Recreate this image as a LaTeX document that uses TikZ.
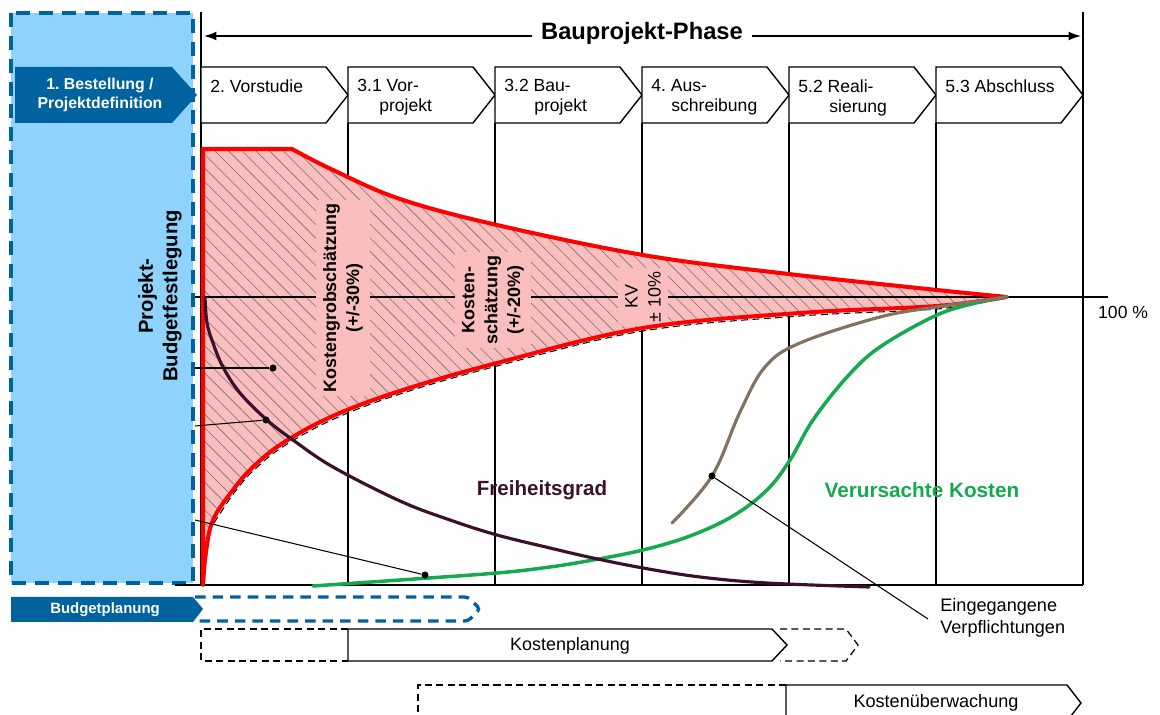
\documentclass[tikz,border=0pt]{standalone}
\usepackage{fontspec}
\setmainfont{Liberation Sans}
\usepackage{xcolor}
\usepackage{tikz}
\usetikzlibrary{arrows.meta,patterns.meta}

\definecolor{hellblau}{RGB}{143,211,252}
\definecolor{dunkelblau}{RGB}{0,99,160}
\definecolor{rosa}{RGB}{250,190,190}
\definecolor{lila}{RGB}{58,16,42}
\definecolor{gruen}{RGB}{22,170,80}
\definecolor{braun}{RGB}{130,115,95}

% Kostenband (obere und untere Grenze)
\newcommand{\kostenband}{(203,585) -- (203,149) -- (292,149)
    -- plot[smooth, tension=0.6] coordinates {(292,149) (333,170) (400,199) (497,225) (643,255) (780,273) (937,290) (1007,297)}
    -- plot[smooth, tension=0.6] coordinates {(1007,297) (937,306) (800,313) (643,328) (497,363) (400,391) (333,416) (283,443) (253,467) (233,490) (213,520) (206,552) (203,585)}
    -- cycle}

\begin{document}
\frenchspacing
\begin{tikzpicture}[
        x=0.02cm, y=-0.02cm,
        linie/.style={line width=0.8pt},
        phase/.style={draw, line width=0.8pt, fill=white},
        phasetext/.style={anchor=north west, align=left, inner sep=0pt, font=\fontsize{10}{11.4}\selectfont},
        bandtext/.style={rotate=90, fill=rosa, align=center, inner xsep=2pt, inner ysep=4pt, font=\bfseries\fontsize{10.2}{13}\selectfont},
        kurve/.style={line width=1.8pt, line cap=round},
        zeiger/.style={line width=0.6pt},
        punkt/.style={circle, fill=black, inner sep=0pt, minimum size=4pt},
        blaustrich/.style={dunkelblau, line width=1.9pt, dash pattern=on 6pt off 4pt},
        strich/.style={line width=0.7pt, dash pattern=on 4pt off 2.5pt}
    ]
    \useasboundingbox (0,0) rectangle (1160,715);

    % Bestellung / Projektdefinition
    \fill[hellblau] (11,13) rectangle (193,583);
    \draw[blaustrich, line width=2.3pt, dash pattern=on 8pt off 5pt] (11,13) rectangle (193,583);

    % Achsen und Phasengrenzen
    \draw[linie] (201,12) -- (201,585);
    \draw[linie] (1083,12) -- (1083,585);
    \draw[linie] (175,585) -- (1083,585);
    \foreach \xv in {348,495,642,789,936}
        \draw[linie] (\xv,123) -- (\xv,585);

    \coordinate (pfeilL) at (204,36);
    \coordinate (pfeilR) at (1081,36);
    \draw[{Latex[length=7pt,width=5pt]}-{Latex[length=7pt,width=5pt]}, line width=0.8pt] (pfeilL) -- (pfeilR);
    \node[fill=white, inner xsep=5pt, font=\bfseries\fontsize{13.5}{16}\selectfont] (bauphase) at (642,33) {Bauprojekt-Phase};

    % Phasen
    \foreach \xa/\nm/\txt in {201/vorstudie/{2. Vorstudie},
            348/vorprojekt/{3.1 Vor-\\\hspace*{0.44cm}projekt},
            495/bauprojekt/{3.2 Bau-\\\hspace*{0.6cm}projekt},
            642/ausschreibung/{4. Aus-\\\hspace*{0.4cm}schreibung},
            789/realisierung/{5.2 Reali-\\\hspace*{0.62cm}sierung},
            936/abschluss/{5.3 Abschluss}} {
        \draw[phase] (\xa,67) -- ++(125,0) -- ++(22,28) -- ++(-22,28) -- ++(-125,0) -- cycle;
        \node[phasetext] (\nm) at (\xa+9,79) {\txt};
    }

    \fill[dunkelblau] (15,67) -- (172,67) -- (197,95) -- (172,123) -- (15,123) -- cycle;
    \node[white, align=center, font=\bfseries\fontsize{9}{10.8}\selectfont] (bestellung) at (100,95) {1. Bestellung /\\Projektdefinition};

    % Kostenband
    \fill[rosa, postaction={pattern={Lines[angle=-45,distance=5.5pt,line width=0.35pt]}, pattern color=black!55}] \kostenband;
    \draw[strich, line width=0.6pt] plot[smooth, tension=0.6] coordinates {(214,523) (234,493) (254,470) (284,446) (334,419) (400,394) (497,366) (643,331) (800,316) (937,309) (995,300)};
    \coordinate (hundertL) at (195,297);
    \coordinate (hundertR) at (1108,297);
    \draw[zeiger] (hundertL) -- (hundertR);

    \node[bandtext] (grob) at (343,298) {Kostengrobschätzung\\(+/-30\%)};
    \node[bandtext] (schaetzung) at (493,300) {Kosten-\\schätzung\\(+/-20\%)};
    \node[bandtext, font=\fontsize{10.2}{13}\selectfont] (kv) at (643,297) {KV\\± 10\%};

    \draw[red, line width=2.3pt, line join=round] \kostenband;

    % Kurven
    \draw[kurve, gruen, line width=2pt] plot[smooth, tension=0.6] coordinates {(313,586) (400,580) (497,573) (550,567) (593,560) (643,550) (690,536) (733,516) (767,490) (790,460) (813,420) (847,377) (880,347) (937,315) (980,302) (1007,297)};
    \draw[kurve, braun] plot[smooth, tension=0.6] coordinates {(672,523) (712,476) (740,412) (765,367) (800,343) (880,317) (937,307) (1007,297)};
    \draw[kurve, lila] plot[smooth, tension=0.6] coordinates {(205,297) (207,323) (213,343) (223,367) (240,393) (267,420) (293,440) (333,467) (400,501) (450,520) (497,535) (550,548) (593,558) (643,568) (700,577) (767,583) (869,587)};

    % Zeiger
    \node[punkt] (dotA) at (273,368) {};
    \node[punkt] (dotB) at (266,420) {};
    \node[punkt] (dotC) at (425,575) {};
    \node[punkt] (dotD) at (712,476) {};
    \coordinate (startA) at (195,368);
    \coordinate (startB) at (195,426);
    \coordinate (startC) at (195,520);
    \coordinate (endD) at (928,619);
    \draw[zeiger] (startA) -- (dotA);
    \draw[zeiger] (startB) -- (dotB);
    \draw[zeiger] (startC) -- (dotC);
    \draw[zeiger] (dotD) -- (endD);

    \node[rotate=90, align=center, font=\bfseries\fontsize{11.5}{14}\selectfont] (budgetfest) at (160,296) {Projekt-\\Budgetfestlegung};
    \node[text=lila, font=\bfseries\fontsize{11.7}{14}\selectfont] (freiheit) at (542,490) {Freiheitsgrad};
    \node[text=gruen, font=\bfseries\fontsize{11.8}{14}\selectfont] (verursacht) at (922,490) {Verursachte Kosten};
    \node[anchor=north west, align=left, inner sep=0pt, font=\fontsize{10.3}{12.5}\selectfont] (verpflichtung) at (940,598) {Eingegangene\\Verpflichtungen};
    \node[anchor=west, font=\fontsize{10}{12}\selectfont] (hundert) at (1092,312) {100 \%};

    % Planung und Ueberwachung
    \draw[blaustrich, rounded corners=2pt] (195,597) -- (468,597) -- (480,609) -- (468,621) -- (195,621);
    \fill[dunkelblau] (11,597) -- (193,597) -- (203,609) -- (193,622) -- (11,622) -- cycle;
    \node[white, font=\bfseries\fontsize{8.5}{10}\selectfont] (budgetpl) at (105,610) {Budgetplanung};

    \draw[strich] (348,629) -- (201,629) -- (201,661) -- (348,661);
    \draw[strich] (780,629) -- (846,629) -- (858,645) -- (846,661) -- (780,661);
    \draw[phase] (348,629) -- (772,629) -- (787,645) -- (772,661) -- (348,661) -- cycle;
    \node[font=\fontsize{10.2}{12}\selectfont] (kostenpl) at (570,646) {Kostenplanung};

    \draw[strich] (786,685) -- (418,685) -- (418,718);
    \draw[phase] (786,685) -- (1067,685) -- (1081,703) -- (1067,721) -- (786,721) -- cycle;
    \node[font=\fontsize{10.3}{12}\selectfont] (kostenue) at (936,703) {Kostenüberwachung};
\end{tikzpicture}
\end{document}
